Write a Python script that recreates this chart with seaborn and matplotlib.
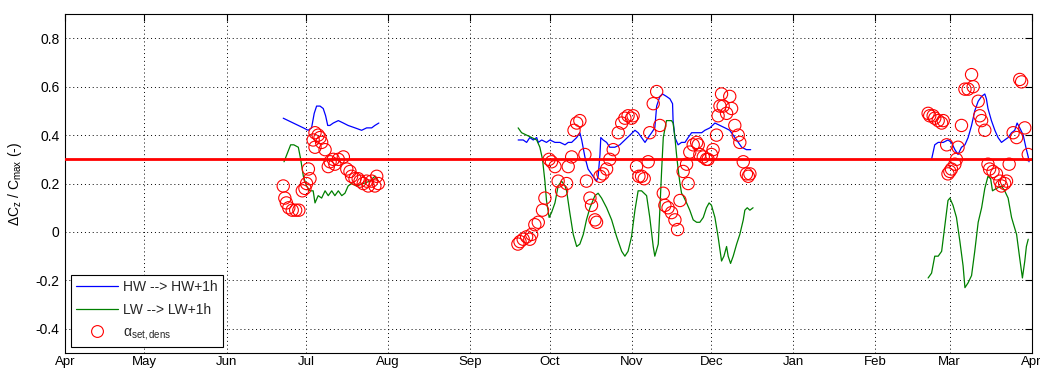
import pandas as pd
import matplotlib
matplotlib.use("Agg")
import matplotlib.pyplot as plt
from matplotlib.lines import Line2D
from matplotlib.ticker import FuncFormatter
import seaborn as sns

# season start; all x values below are days since this date
season_start = "2010-04-01"
season_end = "2011-04-01"

# HW --> HW+1h (blue)
hw_jul_day = [82.4, 84.3, 86.2, 88.1, 90.0, 91.8, 93.1, 94.1, 95.0, 96.3, 97.5, 98.4,
              99.2, 100.0, 101.3, 103.2, 105.1, 106.9, 109.5, 112.0, 113.9, 115.8, 117.0, 118.5]
hw_jul = [0.47, 0.46, 0.45, 0.44, 0.43, 0.42, 0.43, 0.49, 0.52, 0.52, 0.51, 0.48,
          0.44, 0.44, 0.45, 0.46, 0.45, 0.44, 0.43, 0.42, 0.43, 0.43, 0.44, 0.45]

hw_oct_day = [171.1, 173.0, 174.3, 175.5, 176.8, 178.1, 178.7, 180.0, 181.8, 183.1, 185.0,
              186.9, 188.8, 190.0, 191.3, 193.2, 194.4, 195.1, 196.3, 197.5, 199.4, 200.7,
              201.3, 202.0, 202.3, 203.2, 204.5, 205.7, 207.6, 209.5, 211.4, 213.3, 215.2,
              216.4, 217.7, 219.0, 220.2, 221.5, 222.7, 223.4, 224.6, 225.6, 227.1, 228.4,
              229.4, 229.6, 230.3, 231.5, 232.8, 234.1, 235.3, 236.6, 237.8, 239.1, 240.4,
              241.6, 243.5, 245.4, 247.3, 249.2, 251.0, 252.3, 253.6, 255.5, 257.3, 258.9]
hw_oct = [0.38, 0.38, 0.37, 0.39, 0.38, 0.39, 0.37, 0.38, 0.37, 0.38, 0.37,
          0.37, 0.36, 0.37, 0.37, 0.39, 0.41, 0.38, 0.31, 0.26, 0.23, 0.21,
          0.23, 0.32, 0.39, 0.38, 0.37, 0.35, 0.35, 0.36, 0.38, 0.40, 0.42,
          0.41, 0.39, 0.37, 0.39, 0.41, 0.43, 0.52, 0.56, 0.57, 0.56, 0.55,
          0.53, 0.46, 0.39, 0.36, 0.37, 0.37, 0.39, 0.41, 0.41, 0.41, 0.41,
          0.42, 0.43, 0.45, 0.44, 0.43, 0.42, 0.40, 0.38, 0.35, 0.34, 0.34]

hw_mar_day = [327.2, 327.8, 328.4, 329.7, 331.6, 333.4, 334.7, 336.0, 337.2, 338.5, 339.8,
              341.0, 342.3, 343.5, 344.8, 346.1, 347.3, 347.9, 348.5, 349.8, 351.1, 352.3,
              353.6, 354.8, 356.1, 357.4, 358.6, 359.5, 360.5, 361.8, 362.8, 363.7, 364.0]
hw_mar = [0.30, 0.33, 0.36, 0.37, 0.37, 0.38, 0.37, 0.34, 0.32, 0.35, 0.36,
          0.39, 0.44, 0.50, 0.54, 0.56, 0.57, 0.55, 0.51, 0.46, 0.42, 0.39,
          0.37, 0.38, 0.39, 0.41, 0.42, 0.45, 0.43, 0.40, 0.35, 0.31, 0.29]

# LW --> LW+1h (green)
lw_jul_day = [82.7, 85.2, 86.4, 88.1, 89.0, 90.0, 91.2, 92.5, 93.7, 94.4, 95.6, 96.9, 98.2,
              99.4, 100.7, 101.9, 103.2, 104.5, 105.7, 106.9, 108.2, 110.1, 112.6, 115.1,
              117.0, 118.3]
lw_jul = [0.29, 0.36, 0.36, 0.35, 0.30, 0.23, 0.19, 0.17, 0.17, 0.12, 0.15, 0.14, 0.17,
          0.15, 0.17, 0.15, 0.17, 0.15, 0.16, 0.19, 0.20, 0.19, 0.20, 0.21, 0.23, 0.21]

lw_oct_day = [171.1, 172.4, 174.3, 176.2, 178.1, 179.3, 180.3, 181.2, 181.8, 182.8, 183.7,
              185.0, 186.2, 187.5, 188.8, 189.4, 190.6, 191.9, 193.2, 194.4, 195.7, 196.9,
              198.2, 200.1, 201.3, 202.6, 204.5, 206.4, 208.3, 210.2, 211.4, 212.6, 213.9,
              215.2, 216.4, 217.7, 219.6, 220.8, 222.1, 222.7, 224.0, 224.6, 225.3, 225.9,
              227.1, 229.0, 229.6, 230.3, 230.9, 231.5, 232.2, 232.8, 233.4, 234.7, 235.9,
              237.2, 238.5, 239.7, 241.0, 242.2, 243.2, 244.1, 245.4, 246.6, 247.9, 248.8,
              249.8, 250.4, 251.3, 252.3, 253.6, 254.8, 256.1, 256.7, 257.6, 258.6, 259.8]
lw_oct = [0.43, 0.41, 0.40, 0.39, 0.38, 0.35, 0.30, 0.21, 0.13, 0.06, 0.08,
          0.12, 0.19, 0.21, 0.19, 0.17, 0.08, -0.01, -0.06, -0.05, -0.01, 0.05,
          0.10, 0.15, 0.16, 0.14, 0.10, 0.05, -0.02, -0.08, -0.10, -0.08, -0.02,
          0.09, 0.17, 0.17, 0.15, 0.06, -0.06, -0.10, -0.05, 0.09, 0.26, 0.39,
          0.46, 0.46, 0.45, 0.39, 0.32, 0.26, 0.20, 0.16, 0.15, 0.12, 0.09,
          0.05, 0.04, 0.04, 0.06, 0.10, 0.12, 0.11, 0.06, -0.02, -0.12, -0.10,
          -0.06, -0.10, -0.13, -0.10, -0.05, -0.01, 0.05, 0.09, 0.10, 0.09, 0.10]

lw_mar_day = [325.9, 327.2, 328.4, 329.7, 331.0, 331.8, 332.6, 333.4, 334.1, 335.3, 336.6,
              337.9, 339.1, 339.8, 341.0, 342.3, 343.5, 344.8, 346.1, 347.3, 348.5, 349.5,
              350.2, 351.7, 353.6, 354.8, 356.1, 357.4, 358.2, 359.3, 360.5, 361.5, 362.4,
              363.0, 363.7]
lw_mar = [-0.19, -0.17, -0.10, -0.10, -0.08, -0.01, 0.06, 0.13, 0.14, 0.11, 0.06,
          -0.04, -0.14, -0.23, -0.21, -0.18, -0.08, 0.04, 0.10, 0.18, 0.23, 0.22,
          0.17, 0.18, 0.19, 0.17, 0.14, 0.06, 0.03, -0.01, -0.11, -0.19, -0.12,
          -0.06, -0.03]

# alpha_set,dens (red circles)
alpha_day = [82.4, 83.0, 83.6, 84.5, 85.8, 87.1, 88.3, 89.6, 90.6, 91.2, 92.5, 91.9, 93.7,
             94.4, 95.6, 96.3, 96.9, 94.4, 98.2, 99.4, 100.1, 101.3, 101.9, 103.2, 105.1,
             106.4, 107.6, 108.2, 109.5, 110.7, 111.4, 112.6, 113.9, 114.5, 115.8, 117.0,
             118.3, 117.7,
             171.0, 171.8, 173.0, 174.3, 175.5, 176.2, 177.4, 178.7, 180.3, 181.2, 182.8,
             183.7, 185.0, 186.2, 187.5, 189.4, 190.0, 191.3, 192.2, 193.2, 194.4, 196.3,
             196.9, 198.2, 198.8, 200.1, 200.7, 202.0, 203.1, 204.5, 205.7, 207.0, 208.9,
             210.2, 211.4, 212.6, 213.9, 214.5, 215.8, 216.7, 217.7, 218.7, 220.2, 220.8,
             222.1, 223.4, 224.6, 225.9, 226.5, 227.7, 229.0, 230.3, 231.3, 232.2, 233.4,
             234.7, 235.3, 235.9, 237.2, 238.5, 239.1, 239.7, 241.0, 242.2, 242.8, 244.1,
             244.7, 246.0, 246.6, 247.3, 247.9, 248.5, 249.8, 251.0, 251.7, 252.9, 254.2,
             254.8, 256.1, 257.3, 258.0, 258.6,
             325.9, 326.5, 327.8, 328.4, 329.7, 331.0, 331.6, 332.9, 333.4, 334.1, 334.7,
             336.0, 336.6, 337.2, 338.5, 339.8, 341.0, 342.3, 342.9, 344.8, 345.4, 346.1,
             347.3, 348.5, 349.1, 350.4, 351.7, 353.0, 353.6, 354.8, 355.5, 356.5, 358.0,
             359.3, 360.5, 361.2, 362.4, 363.7]
alpha_val = [0.19, 0.14, 0.12, 0.10, 0.09, 0.09, 0.09, 0.17, 0.18, 0.20, 0.22, 0.26, 0.38,
             0.41, 0.40, 0.39, 0.37, 0.35, 0.34, 0.27, 0.29, 0.30, 0.28, 0.30, 0.31,
             0.26, 0.25, 0.23, 0.22, 0.22, 0.21, 0.20, 0.21, 0.19, 0.21, 0.19,
             0.20, 0.23,
             -0.05, -0.04, -0.03, -0.02, -0.03, -0.01, 0.03, 0.04, 0.09, 0.14, 0.30,
             0.29, 0.27, 0.21, 0.17, 0.20, 0.27, 0.31, 0.42, 0.45, 0.46, 0.32,
             0.21, 0.14, 0.11, 0.05, 0.04, 0.23, 0.24, 0.26, 0.30, 0.34, 0.41,
             0.45, 0.47, 0.48, 0.47, 0.48, 0.27, 0.23, 0.23, 0.22, 0.29, 0.41,
             0.53, 0.58, 0.44, 0.16, 0.11, 0.10, 0.08, 0.05, 0.01, 0.13, 0.25,
             0.28, 0.20, 0.33, 0.36, 0.37, 0.36, 0.32, 0.31, 0.30, 0.30, 0.32,
             0.34, 0.40, 0.48, 0.52, 0.57, 0.52, 0.49, 0.56, 0.51, 0.44, 0.40,
             0.37, 0.29, 0.24, 0.23, 0.24,
             0.49, 0.48, 0.48, 0.47, 0.46, 0.45, 0.46, 0.36, 0.24, 0.25, 0.26,
             0.28, 0.30, 0.35, 0.44, 0.59, 0.59, 0.65, 0.60, 0.54, 0.48, 0.46,
             0.42, 0.28, 0.26, 0.25, 0.24, 0.21, 0.19, 0.20, 0.21, 0.28, 0.41,
             0.39, 0.63, 0.62, 0.43, 0.32]

threshold = 0.3
month_labels = ["Apr", "May", "Jun", "Jul", "Aug", "Sep", "Oct", "Nov", "Dec",
                "Jan", "Feb", "Mar", "Apr"]


def to_frame(days, values, segment):
    start = pd.Timestamp(season_start)
    return pd.DataFrame({
        "date": start + pd.to_timedelta(days, unit="D"),
        "value": values,
        "segment": segment,
    })


def main():
    sns.set_theme(style="white")
    plt.rcParams["font.family"] = ["Liberation Sans", "DejaVu Sans"]
    plt.rcParams["mathtext.fontset"] = "custom"
    plt.rcParams["mathtext.rm"] = "Liberation Sans"
    plt.rcParams["mathtext.it"] = "Liberation Sans:italic"

    hw = pd.concat([to_frame(hw_jul_day, hw_jul, "jul"),
                    to_frame(hw_oct_day, hw_oct, "oct"),
                    to_frame(hw_mar_day, hw_mar, "mar")])
    lw = pd.concat([to_frame(lw_jul_day, lw_jul, "jul"),
                    to_frame(lw_oct_day, lw_oct, "oct"),
                    to_frame(lw_mar_day, lw_mar, "mar")])
    alpha = to_frame(alpha_day, alpha_val, "all")

    fig = plt.figure(figsize=(10.4, 3.71), dpi=100)
    ax = fig.add_axes([0.0625, 0.0485, 0.9295, 0.9135])

    sns.lineplot(data=hw, x="date", y="value", units="segment", estimator=None,
                 sort=False, color="#0000ff", linewidth=0.9, ax=ax, zorder=3)
    sns.lineplot(data=lw, x="date", y="value", units="segment", estimator=None,
                 sort=False, color="#008000", linewidth=0.9, ax=ax, zorder=3)
    sns.scatterplot(data=alpha, x="date", y="value", color="red", facecolor="none",
                    edgecolor="red", linewidth=0.8, s=78, ax=ax, zorder=4)
    ax.axhline(threshold, color="red", linewidth=2, zorder=5)

    # axes, ticks, grid (matlab-like)
    ax.set_xlim(pd.Timestamp(season_start), pd.Timestamp(season_end))
    ax.set_ylim(-0.5, 0.9)
    ticks = pd.date_range(season_start, season_end, freq="MS")
    ax.set_xticks(ticks)
    ax.set_xticklabels(month_labels)
    ax.set_yticks([-0.4, -0.2, 0, 0.2, 0.4, 0.6, 0.8])
    ax.yaxis.set_major_formatter(FuncFormatter(lambda v, p: f"{v:g}"))
    ax.tick_params(direction="in", length=5, width=0.8, top=True, right=True,
                   labelsize=10, colors="black", pad=4)
    ax.tick_params(axis="x", pad=2, labelsize=9.5)
    ax.grid(True, color="black", linestyle=(0, (1, 3)), linewidth=0.7)
    for spine in ax.spines.values():
        spine.set_color("black")
        spine.set_linewidth(0.8)

    ax.set_xlabel("")
    ax.set_ylabel(r"$\Delta\mathregular{C_z}$ / $\mathregular{C_{max}}$ (-)",
                  fontsize=10, color="black", labelpad=8)

    handles = [
        Line2D([], [], color="#0000ff", linewidth=0.9),
        Line2D([], [], color="#008000", linewidth=0.9),
        Line2D([], [], color="red", marker="o", linestyle="none",
               markerfacecolor="none", markersize=8.5, markeredgewidth=0.8),
    ]
    labels = ["HW --> HW+1h", "LW --> LW+1h", r"$\mathregular{\alpha_{set,dens}}$"]
    leg = ax.legend(handles, labels, loc="lower left", fontsize=10, frameon=True,
                    fancybox=False, framealpha=1, edgecolor="black",
                    handlelength=3.0, handletextpad=0.4, borderaxespad=0.45,
                    labelspacing=0.6, borderpad=0.35)
    leg.get_frame().set_linewidth(0.8)

    fig.savefig("out.png", dpi=100)


if __name__ == "__main__":
    main()
